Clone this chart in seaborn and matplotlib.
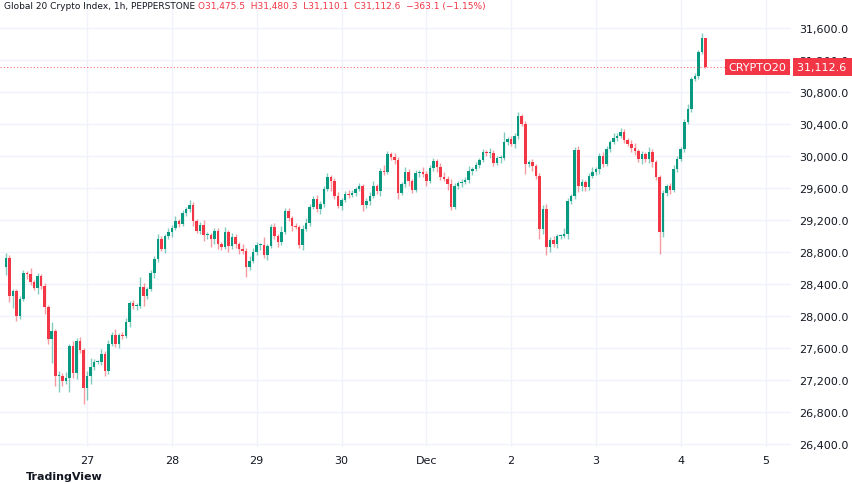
import numpy as np
import pandas as pd
import matplotlib
matplotlib.use('agg')
from matplotlib import pyplot as plt
import seaborn as sns

# hourly closes (first open given separately)
first_open = 28612
closes = [
    28725, 28250, 28312, 28000, 28212, 28537, 28525, 28425, 28350, 28500,
    28375, 28112, 27712, 27812, 27250, 27250, 27188, 27225, 27625, 27288,
    27688, 27575, 27100, 27250, 27362, 27425, 27425, 27525, 27312, 27650,
    27762, 27650, 27762, 27750, 27925, 28162, 28125, 28125, 28362, 28250,
    28337, 28537, 28712, 28962, 28837, 29000, 29050, 29100, 29187, 29150,
    29287, 29337, 29387, 29187, 29062, 29137, 29012, 29012, 28962, 29062,
    28900, 28862, 29050, 28875, 28987, 28900, 28837, 28812, 28612, 28687,
    28800, 28887, 28887, 28762, 28875, 29112, 29000, 28925, 29050, 29312,
    29225, 29125, 29112, 28887, 29087, 29162, 29362, 29462, 29337, 29400,
    29587, 29737, 29687, 29500, 29375, 29450, 29525, 29512, 29537, 29587,
    29625, 29387, 29437, 29500, 29625, 29562, 29812, 29800, 30025, 29987,
    29950, 29537, 29650, 29800, 29687, 29575, 29787, 29800, 29775, 29687,
    29850, 29937, 29862, 29737, 29712, 29650, 29362, 29625, 29662, 29675,
    29700, 29812, 29837, 29887, 29950, 30050, 30037, 30037, 29912, 29975,
    29975, 30175, 30212, 30150, 30250, 30500, 30400, 29900, 29925, 29875,
    29750, 29087, 29337, 28862, 28950, 28900, 29000, 29000, 29025, 29437,
    29500, 30075, 29625, 29675, 29612, 29750, 29800, 29837, 30000, 29900,
    30087, 30175, 30225, 30250, 30300, 30200, 30150, 30100, 30062, 29962,
    30025, 29962, 30050, 29925, 29737, 29050, 29537, 29625, 29575, 29837,
    29962, 30087, 30425, 30587, 30962, 31000, 31300, 31475.5, 31112.6,
]
upper_wick = [
    60, 40, 30, 20, 40, 40, 30, 80, 30, 40,
    30, 40, 30, 120, 30, 60, 40, 80, 30, 60,
    40, 50, 30, 60, 120, 40, 30, 60, 40, 50,
    40, 80, 30, 40, 50, 30, 40, 40, 120, 50,
    30, 40, 40, 60, 40, 30, 50, 40, 60, 30,
    40, 30, 60, 40, 30, 40, 60, 40, 30, 40,
    40, 30, 60, 30, 50, 40, 30, 60, 40, 60,
    50, 40, 30, 100, 30, 40, 50, 30, 80, 40,
    40, 30, 40, 30, 50, 60, 40, 40, 50, 40,
    40, 50, 30, 40, 50, 30, 40, 50, 40, 30,
    40, 30, 40, 50, 60, 30, 40, 80, 40, 30,
    50, 40, 30, 60, 40, 30, 40, 30, 60, 40,
    40, 40, 30, 50, 60, 40, 60, 40, 30, 40,
    40, 60, 30, 40, 30, 40, 30, 60, 40, 30,
    40, 120, 30, 40, 40, 50, 30, 40, 30, 40,
    30, 40, 50, 60, 40, 50, 30, 30, 80, 40,
    30, 40, 50, 40, 30, 40, 60, 30, 40, 50,
    40, 30, 60, 40, 50, 40, 30, 50, 60, 30,
    40, 30, 60, 40, 30, 30, 40, 30, 40, 50,
    40, 30, 40, 60, 30, 40, 30, 60, 5,
]
lower_wick = [
    100, 80, 150, 60, 40, 30, 60, 40, 30, 80,
    40, 90, 60, 300, 120, 200, 60, 40, 180, 60,
    70, 40, 200, 150, 100, 40, 30, 40, 60, 40,
    30, 40, 50, 40, 30, 60, 40, 50, 30, 120,
    40, 30, 60, 40, 30, 50, 40, 60, 30, 40,
    30, 40, 40, 60, 30, 40, 80, 50, 100, 60,
    60, 40, 30, 70, 40, 50, 60, 40, 120, 40,
    30, 40, 60, 40, 60, 30, 40, 60, 40, 30,
    40, 60, 30, 40, 60, 30, 40, 30, 40, 60,
    40, 30, 120, 40, 30, 50, 30, 40, 30, 40,
    30, 80, 40, 50, 30, 40, 60, 40, 30, 40,
    50, 80, 30, 40, 60, 40, 30, 50, 40, 60,
    30, 40, 60, 40, 30, 80, 40, 30, 40, 50,
    30, 40, 50, 30, 40, 30, 40, 60, 40, 30,
    60, 30, 40, 30, 50, 40, 30, 120, 40, 60,
    40, 120, 60, 100, 60, 40, 50, 40, 30, 60,
    40, 40, 80, 60, 50, 40, 30, 40, 60, 40,
    30, 40, 30, 40, 30, 40, 30, 50, 50, 40,
    60, 40, 50, 60, 40, 280, 60, 40, 50, 30,
    40, 30, 40, 30, 40, 30, 40, 30, 10,
]
day_labels = ['27', '28', '29', '30', 'Dec', '2', '3', '4', '5']
y_ticks = list(range(26400, 31601, 400))
start_hour = 1  # hours after Nov 26 00:00

df = pd.DataFrame({'close': closes})
df['open'] = [first_open] + closes[:-1]
df['high'] = df[['open', 'close']].max(axis=1) + upper_wick
df['low'] = df[['open', 'close']].min(axis=1) - lower_wick
df['x'] = np.arange(len(df)) + start_hour
df['up'] = df['close'] >= df['open']

GREEN = '#089981'
RED = '#F23645'

sns.set_theme(style='white')
fig = plt.figure(figsize=(8.52, 4.85), dpi=100)
ax = fig.add_axes([0.0, 0.076, 0.928, 0.924])

for up, col in [(True, GREEN), (False, RED)]:
    d = df[df['up'] == up]
    ax.vlines(d['x'], d['low'], d['high'], color=col, alpha=0.5, lw=1)
    ax.bar(d['x'], (d['close'] - d['open']).abs().clip(lower=8),
           bottom=d[['open', 'close']].min(axis=1), width=0.72, color=col, lw=0)

last = closes[-1]
ax.axhline(last, color=RED, lw=0.8, ls=(0, (1, 2)), alpha=0.7)

ax.set_xlim(-0.65, 223.1)
ax.set_ylim(26362, 31962)
ax.set_xticks([24 * (i + 1) for i in range(len(day_labels))])
ax.set_xticklabels(day_labels)
ax.set_yticks(y_ticks)
ax.set_yticklabels(['{:,.1f}'.format(v) for v in y_ticks])
ax.yaxis.tick_right()
ax.tick_params(axis='both', labelsize=8, colors='#131722', length=0, pad=6)
ax.grid(True, color='#f0f3fa', lw=1)
for s in ax.spines.values():
    s.set_visible(False)

ax.text(0.995, last, 'CRYPTO20', transform=ax.get_yaxis_transform(), ha='right', va='center',
        fontsize=8, color='white', zorder=5,
        bbox=dict(boxstyle='square,pad=0.3', fc=RED, ec='none'))
ax.text(1.008, last, '31,112.6  ', transform=ax.get_yaxis_transform(), ha='left', va='center',
        fontsize=8, color='white', clip_on=False, zorder=5,
        bbox=dict(boxstyle='square,pad=0.35', fc=RED, ec='none'))

fig.text(0.005, 0.995, 'Global 20 Crypto Index, 1h, PEPPERSTONE', fontsize=6.5, color='#131722', va='top')
fig.text(0.232, 0.995, 'O31,475.5  H31,480.3  L31,110.1  C31,112.6  \u2212363.1 (\u22121.15%)',
         fontsize=6.5, color=RED, va='top')
fig.text(0.03, 0.01, 'TradingView', fontsize=8, color='#131722', fontweight='bold')

fig.savefig('out.png', dpi=100, facecolor='white')
